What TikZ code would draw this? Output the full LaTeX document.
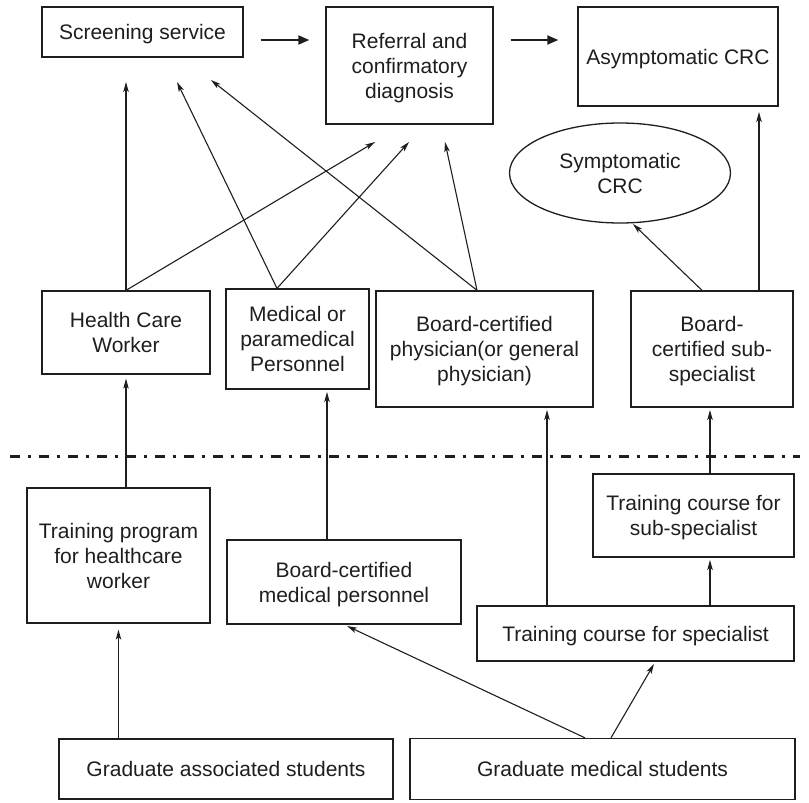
\documentclass[tikz,border=0pt]{standalone}
\usepackage{fontspec}
\setmainfont{Liberation Sans}
\usetikzlibrary{arrows.meta,shapes.geometric}
\definecolor{ink}{RGB}{30,30,30}
\begin{document}
\begin{tikzpicture}[x=1pt,y=-1pt,
  box/.style={draw=ink, line width=1.3pt, text=ink, inner sep=0pt, align=center,
              text depth=0pt, font=\fontsize{21}{25}\selectfont},
  oval/.style={box, ellipse},
  link/.style={draw=ink, line width=1.1pt, -{Stealth[length=10pt,width=5.5pt,inset=2.5pt]}},
  flow/.style={draw=ink, line width=2pt, -{Triangle[length=11pt,width=9pt]}},
  divider/.style={draw=ink, line width=3pt, dash pattern=on 9.5pt off 8pt on 3pt off 8.5pt}]
\useasboundingbox (0,0) rectangle (809,803);

% care pathway
\node[box, minimum width=201pt, minimum height=50pt]  (screen)   at (142.5,32)  {Screening service};
\node[box, minimum width=167pt, minimum height=117pt] (referral) at (409.5,65.5) {Referral and\\confirmatory\\diagnosis};
\node[box, minimum width=200pt, minimum height=99pt]  (asym)     at (678,56.5)  {Asymptomatic CRC};
\node[oval, minimum width=221pt, minimum height=100pt] (symp)    at (620,173)   {Symptomatic\\CRC};

% providers
\node[box, minimum width=168pt, minimum height=83pt]  (hcw)      at (126,332.5) {Health Care\\Worker};
\node[box, minimum width=143pt, minimum height=100pt] (medpers)  at (297.5,339) {Medical or\\paramedical\\Personnel};
\node[box, minimum width=217pt, minimum height=116pt] (phys)     at (484.5,349) {Board-certified\\physician(or general\\physician)};
\node[box, minimum width=162pt, minimum height=116pt] (subspec)  at (712,349)   {Board-\\certified sub-\\specialist};

% separator between services and training
\draw[divider] (10,456) -- (800,456);

% training
\node[box, minimum width=183pt, minimum height=135pt] (trainhcw)  at (118.5,555.5) {Training program\\for healthcare\\worker};
\node[box, minimum width=234pt, minimum height=84pt]  (bcmp)      at (344,582)     {Board-certified\\medical personnel};
\node[box, minimum width=201pt, minimum height=83pt]  (trainsub)  at (693.5,515.5) {Training course for\\sub-specialist};
\node[box, minimum width=317pt, minimum height=55pt]  (trainspec) at (635.5,633.5) {Training course for specialist};
\node[box, minimum width=334pt, minimum height=60pt]  (gradassoc) at (226,769)     {Graduate associated students};
\node[box, minimum width=385pt, minimum height=61pt]  (gradmed)   at (602.5,769)   {Graduate medical students};

% arrow tips that stop short of their boxes
\coordinate (tipS1) at (126,82);
\coordinate (tipS2) at (177,82);
\coordinate (tipS3) at (211,80);
\coordinate (tipR1) at (375,142);
\coordinate (tipR2) at (409,142);
\coordinate (tipR3) at (445,142);
\coordinate (tipSy) at (633,224);
\coordinate (tipA)  at (759,112);
\coordinate (tipM)  at (327,392);
\coordinate (tipP)  at (547,410);
\coordinate (tipB)  at (710,410);
\coordinate (tipT)  at (710,560);
\coordinate (tipC)  at (347,626);
\coordinate (tipD)  at (654,664);

% main flow
\draw[flow, shorten <=17pt, shorten >=16pt] ([yshift=-8pt]screen.east) -- ([yshift=25.5pt]referral.west);
\draw[flow, shorten <=17pt, shorten >=19pt] ([yshift=25.5pt]referral.east) -- ([yshift=16.5pt]asym.west);

% providers to services
\draw[link] (hcw.north) -- (tipS1);
\draw[link] (hcw.north) -- (tipR1);
\draw[link] ([xshift=-20.5pt]medpers.north) -- (tipS2);
\draw[link] ([xshift=-20.5pt]medpers.north) -- (tipR2);
\draw[link] ([xshift=-7.5pt]phys.north) -- (tipS3);
\draw[link] ([xshift=-7.5pt]phys.north) -- (tipR3);
\draw[link] ([xshift=-10pt]subspec.north) -- (tipSy);
\draw[link] ([xshift=47pt]subspec.north) -- (tipA);

% training to providers
\draw[link] (hcw.south |- trainhcw.north) -- ([yshift=-4pt]hcw.south);
\draw[link] ([xshift=-17pt]bcmp.north) -- (tipM);
\draw[link] ([xshift=-88.5pt]trainspec.north) -- (tipP);
\draw[link] ([xshift=74.5pt]trainspec.north) -- (tipT);
\draw[link] ([xshift=16.5pt]trainsub.north) -- (tipB);

% graduates to training
\draw[link] (trainhcw.south |- gradassoc.north) -- ([yshift=-6pt]trainhcw.south);
\draw[link] ([xshift=-17.5pt]gradmed.north) -- (tipC);
\draw[link] ([xshift=8.5pt]gradmed.north) -- (tipD);
\end{tikzpicture}
\end{document}
